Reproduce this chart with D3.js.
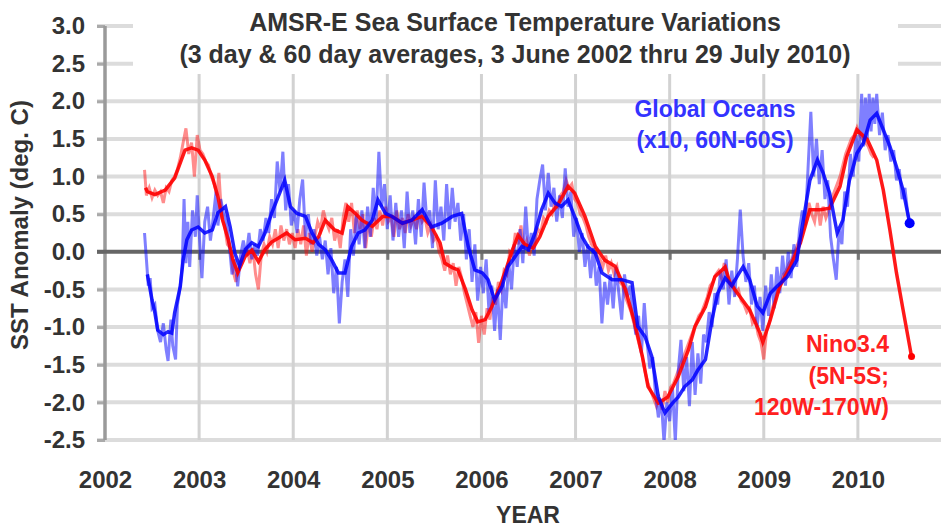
<!DOCTYPE html>
<html>
<head>
<meta charset="utf-8">
<script src="https://cdn.jsdelivr.net/npm/d3@7"></script>
<style>
body { margin: 0; background: #fff; }
svg { display: block; font-family: "Liberation Sans", Arial, sans-serif; font-weight: bold; }
</style>
</head>
<body>
<svg width="941" height="529"></svg>
<script>
// tick values
var yearTicks = [2002, 2003, 2004, 2005, 2006, 2007, 2008, 2009, 2010];
var anomalyTicks = [-2.5, -2.0, -1.5, -1.0, -0.5, 0.0, 0.5, 1.0, 1.5, 2.0, 2.5, 3.0];

// global oceans (x10), 60 day average  [year, deg C]
var global60 = [
  [2002.45,-0.30],[2002.50,-0.64],[2002.53,-0.81],[2002.56,-1.04],[2002.62,-1.10],[2002.67,-1.06],
  [2002.71,-1.08],[2002.74,-0.81],[2002.80,-0.46],[2002.83,-0.11],[2002.87,0.16],[2002.92,0.29],
  [2002.99,0.33],[2003.06,0.25],[2003.14,0.29],[2003.20,0.52],[2003.28,0.60],[2003.33,0.33],
  [2003.38,-0.02],[2003.43,-0.19],[2003.49,0.03],[2003.56,0.12],[2003.63,0.07],[2003.70,0.25],
  [2003.77,0.51],[2003.84,0.73],[2003.91,0.95],[2003.97,0.60],[2004.04,0.51],[2004.13,0.47],
  [2004.20,0.25],[2004.27,0.10],[2004.34,0.03],[2004.41,-0.11],[2004.48,-0.28],[2004.55,-0.28],
  [2004.62,0.07],[2004.69,0.25],[2004.76,0.29],[2004.84,0.42],[2004.90,0.69],[2004.98,0.51],
  [2005.05,0.47],[2005.16,0.38],[2005.26,0.42],[2005.37,0.56],[2005.47,0.33],[2005.58,0.38],
  [2005.69,0.47],[2005.79,0.51],[2005.86,0.07],[2005.93,-0.24],[2006.01,-0.28],[2006.07,-0.37],
  [2006.14,-0.64],[2006.22,-0.46],[2006.28,-0.20],[2006.36,-0.06],[2006.43,0.07],[2006.50,0.03],
  [2006.57,0.25],[2006.64,0.56],[2006.71,0.78],[2006.78,0.65],[2006.85,0.60],[2006.92,0.69],
  [2006.99,0.47],[2007.07,0.20],[2007.13,0.07],[2007.21,-0.02],[2007.28,-0.28],[2007.39,-0.37],
  [2007.49,-0.37],[2007.60,-0.41],[2007.66,-0.99],[2007.74,-1.13],[2007.81,-1.39],[2007.88,-1.93],
  [2007.95,-2.14],[2008.03,-2.01],[2008.09,-1.93],[2008.16,-1.79],[2008.24,-1.70],[2008.30,-1.57],
  [2008.38,-1.43],[2008.45,-0.90],[2008.51,-0.55],[2008.59,-0.35],[2008.66,-0.45],[2008.73,-0.30],
  [2008.78,-0.20],[2008.85,-0.37],[2008.93,-0.72],[2008.99,-0.81],[2009.07,-0.55],[2009.14,-0.46],
  [2009.25,-0.33],[2009.35,-0.11],[2009.42,0.42],[2009.49,0.95],[2009.57,1.22],[2009.63,1.05],
  [2009.70,0.78],[2009.78,0.25],[2009.84,0.42],[2009.91,0.95],[2009.99,1.31],[2010.06,1.45],
  [2010.13,1.75],[2010.20,1.84],[2010.27,1.62],[2010.34,1.40],[2010.41,1.13],[2010.48,0.82],
  [2010.55,0.38]
];

// global oceans (x10), 3 day average
var global3 = [
  [2002.42,0.25],[2002.44,-0.10],[2002.46,-0.45],[2002.48,-0.35],[2002.50,-0.75],[2002.53,-0.70],
  [2002.56,-1.05],[2002.59,-1.20],[2002.62,-0.95],[2002.65,-1.30],[2002.67,-1.45],[2002.70,-0.90],
  [2002.72,-1.25],[2002.75,-1.43],[2002.77,-0.70],[2002.80,-0.45],[2002.82,-0.20],[2002.84,0.70],
  [2002.86,-0.15],[2002.88,0.40],[2002.90,-0.20],[2002.93,0.55],[2002.96,0.20],[2002.98,0.75],
  [2003.01,0.05],[2003.03,-0.35],[2003.06,0.40],[2003.09,0.60],[2003.12,0.15],[2003.15,0.45],
  [2003.18,0.80],[2003.20,0.35],[2003.23,0.70],[2003.26,0.50],[2003.29,0.40],[2003.32,0.10],
  [2003.35,-0.30],[2003.38,-0.10],[2003.41,-0.46],[2003.44,-0.05],[2003.47,0.15],[2003.50,-0.05],
  [2003.53,0.25],[2003.56,-0.10],[2003.59,0.10],[2003.62,-0.05],[2003.65,0.30],[2003.68,0.15],
  [2003.71,0.45],[2003.74,0.25],[2003.77,0.70],[2003.80,0.45],[2003.83,1.20],[2003.86,0.80],
  [2003.89,1.33],[2003.92,0.55],[2003.95,0.90],[2003.98,0.35],[2004.01,0.55],[2004.04,0.25],
  [2004.07,0.70],[2004.10,0.96],[2004.13,0.20],[2004.16,0.50],[2004.19,0.10],[2004.22,0.30],
  [2004.25,-0.05],[2004.28,0.20],[2004.31,-0.10],[2004.34,0.15],[2004.37,-0.30],[2004.40,0.05],
  [2004.43,-0.55],[2004.46,-0.20],[2004.49,-0.95],[2004.52,-0.40],[2004.55,-0.10],[2004.58,-0.60],
  [2004.61,0.30],[2004.64,-0.05],[2004.67,0.50],[2004.70,0.10],[2004.73,0.55],[2004.76,0.05],
  [2004.79,0.60],[2004.82,0.20],[2004.85,0.85],[2004.88,0.40],[2004.91,1.33],[2004.94,0.60],
  [2004.97,0.90],[2005.00,0.30],[2005.03,0.75],[2005.06,0.15],[2005.09,0.65],[2005.12,0.20],
  [2005.15,0.55],[2005.18,0.05],[2005.21,0.80],[2005.24,0.25],[2005.27,0.55],[2005.30,0.10],
  [2005.33,0.70],[2005.36,0.20],[2005.39,0.92],[2005.42,0.40],[2005.45,0.55],[2005.48,0.05],
  [2005.51,0.95],[2005.54,0.30],[2005.57,0.60],[2005.60,0.15],[2005.63,0.90],[2005.66,0.30],
  [2005.69,0.85],[2005.72,0.40],[2005.75,0.65],[2005.78,0.15],[2005.81,0.50],[2005.84,-0.10],
  [2005.87,0.30],[2005.90,-0.40],[2005.93,0.10],[2005.96,-0.65],[2005.99,-0.20],[2006.02,-0.55],
  [2006.05,-0.10],[2006.08,-0.80],[2006.11,-0.45],[2006.14,-1.05],[2006.17,-0.50],[2006.20,-1.17],
  [2006.23,-0.40],[2006.26,-0.75],[2006.29,-0.15],[2006.32,-0.50],[2006.35,0.10],[2006.38,-0.20],
  [2006.41,0.30],[2006.44,-0.15],[2006.47,0.60],[2006.50,0.00],[2006.53,0.25],[2006.56,-0.05],
  [2006.59,0.70],[2006.62,0.95],[2006.65,1.16],[2006.68,0.55],[2006.71,1.05],[2006.74,0.60],
  [2006.77,0.85],[2006.80,0.40],[2006.83,0.75],[2006.86,0.45],[2006.89,1.11],[2006.92,0.60],
  [2006.95,0.80],[2006.98,0.20],[2007.01,0.45],[2007.04,0.00],[2007.07,0.25],[2007.10,-0.20],
  [2007.13,0.10],[2007.16,-0.35],[2007.19,0.05],[2007.22,-0.45],[2007.25,-0.20],[2007.28,-0.95],
  [2007.31,-0.40],[2007.34,-0.70],[2007.37,-0.30],[2007.40,-0.75],[2007.43,-0.20],[2007.46,-0.55],
  [2007.49,-0.90],[2007.52,-0.30],[2007.55,-0.60],[2007.58,-0.45],[2007.61,-0.80],[2007.64,-1.10],
  [2007.67,-0.85],[2007.70,-1.35],[2007.73,-0.68],[2007.76,-1.20],[2007.79,-1.55],[2007.82,-1.40],
  [2007.85,-1.90],[2007.88,-2.20],[2007.91,-1.95],[2007.94,-2.53],[2007.97,-2.00],[2008.00,-2.25],
  [2008.03,-1.80],[2008.06,-2.52],[2008.09,-1.60],[2008.12,-1.17],[2008.15,-1.85],[2008.18,-1.40],
  [2008.21,-2.05],[2008.24,-1.20],[2008.27,-1.90],[2008.30,-1.35],[2008.33,-1.75],[2008.36,-1.10],
  [2008.39,-1.20],[2008.42,-0.80],[2008.45,-1.00],[2008.48,-0.55],[2008.51,-0.70],[2008.54,-0.25],
  [2008.57,-0.50],[2008.60,-0.10],[2008.63,-0.70],[2008.66,-0.25],[2008.69,-0.60],[2008.72,-0.10],
  [2008.75,0.56],[2008.78,-0.05],[2008.81,-0.40],[2008.84,-0.15],[2008.87,-0.70],[2008.90,-0.45],
  [2008.93,-1.00],[2008.96,-0.60],[2008.99,-1.05],[2009.02,-0.45],[2009.05,-0.85],[2009.08,-0.30],
  [2009.11,-0.75],[2009.14,-0.20],[2009.17,-0.55],[2009.20,-0.05],[2009.23,-0.45],[2009.26,0.00],
  [2009.29,-0.35],[2009.32,0.10],[2009.35,-0.20],[2009.38,0.30],[2009.41,0.55],[2009.44,0.35],
  [2009.47,1.10],[2009.50,1.86],[2009.53,1.00],[2009.56,1.50],[2009.59,0.90],[2009.62,1.35],
  [2009.65,0.70],[2009.68,0.95],[2009.71,0.20],[2009.74,-0.10],[2009.77,-0.37],[2009.80,0.30],
  [2009.83,0.10],[2009.86,0.80],[2009.89,0.60],[2009.92,1.30],[2009.95,1.00],[2009.98,1.55],
  [2010.01,1.20],[2010.04,2.10],[2010.06,1.40],[2010.08,2.05],[2010.10,1.50],[2010.12,2.10],
  [2010.14,1.60],[2010.16,2.05],[2010.18,1.70],[2010.20,2.10],[2010.23,1.55],[2010.26,1.85],
  [2010.29,1.35],[2010.32,1.55],[2010.35,1.20],[2010.38,1.35],[2010.41,0.95],[2010.44,1.10],
  [2010.47,0.70],[2010.50,0.85],[2010.53,0.50],[2010.55,0.40]
];

// Nino3.4, 60 day average
var nino60 = [
  [2002.43,0.85],[2002.45,0.80],[2002.53,0.76],[2002.64,0.82],[2002.74,0.98],[2002.85,1.35],
  [2002.92,1.38],[2002.99,1.35],[2003.06,1.22],[2003.14,1.00],[2003.20,0.73],[2003.25,0.42],
  [2003.31,0.16],[2003.36,-0.11],[2003.41,-0.28],[2003.49,-0.06],[2003.56,0.02],[2003.63,-0.13],
  [2003.70,0.03],[2003.77,0.13],[2003.84,0.18],[2003.93,0.25],[2004.02,0.16],[2004.13,0.18],
  [2004.21,0.12],[2004.27,0.20],[2004.34,0.42],[2004.44,0.29],[2004.52,0.25],[2004.58,0.60],
  [2004.66,0.51],[2004.73,0.42],[2004.84,0.34],[2004.95,0.47],[2005.05,0.47],[2005.16,0.38],
  [2005.26,0.42],[2005.37,0.47],[2005.47,0.33],[2005.56,0.12],[2005.61,-0.15],[2005.69,-0.21],
  [2005.75,-0.24],[2005.83,-0.50],[2005.90,-0.77],[2005.96,-0.93],[2006.04,-0.90],[2006.11,-0.73],
  [2006.20,-0.45],[2006.27,-0.20],[2006.33,0.03],[2006.39,0.22],[2006.46,0.10],[2006.55,0.05],
  [2006.62,0.20],[2006.71,0.47],[2006.81,0.62],[2006.92,0.87],[2006.99,0.78],[2007.10,0.47],
  [2007.21,0.07],[2007.31,-0.11],[2007.42,-0.19],[2007.53,-0.50],[2007.63,-0.95],[2007.71,-1.39],
  [2007.77,-1.79],[2007.88,-2.01],[2007.98,-1.93],[2008.09,-1.66],[2008.20,-1.30],[2008.27,-0.99],
  [2008.38,-0.73],[2008.48,-0.33],[2008.59,-0.20],[2008.64,-0.41],[2008.75,-0.60],[2008.85,-0.77],
  [2008.96,-1.08],[2008.99,-1.20],[2009.07,-0.90],[2009.17,-0.46],[2009.28,-0.20],[2009.39,0.12],
  [2009.49,0.56],[2009.60,0.56],[2009.70,0.58],[2009.81,0.87],[2009.88,1.26],[2009.99,1.62],
  [2010.10,1.49],[2010.20,1.22],[2010.27,0.82],[2010.34,0.29],[2010.41,-0.28],[2010.48,-0.77],
  [2010.57,-1.39]
];

// Nino3.4, 3 day average
var nino3 = [
  [2002.42,1.09],[2002.44,0.75],[2002.47,0.85],[2002.50,0.72],[2002.53,0.82],[2002.56,0.75],
  [2002.59,0.80],[2002.62,0.65],[2002.65,0.85],[2002.68,0.80],[2002.71,0.95],[2002.74,1.00],
  [2002.77,1.10],[2002.80,1.25],[2002.83,1.45],[2002.86,1.64],[2002.89,1.30],[2002.92,1.45],
  [2002.95,1.00],[2002.98,1.55],[2003.01,1.35],[2003.04,1.30],[2003.07,1.20],[2003.10,1.15],
  [2003.13,1.00],[2003.16,0.90],[2003.19,0.75],[2003.21,1.05],[2003.24,0.45],[2003.27,0.35],
  [2003.30,0.10],[2003.33,0.05],[2003.36,-0.25],[2003.39,-0.40],[2003.42,-0.20],[2003.45,-0.10],
  [2003.48,0.00],[2003.51,0.05],[2003.54,-0.15],[2003.57,0.05],[2003.60,-0.30],[2003.63,-0.50],
  [2003.66,-0.05],[2003.69,0.10],[2003.72,0.00],[2003.75,0.20],[2003.78,0.10],[2003.81,0.30],
  [2003.84,0.05],[2003.87,0.35],[2003.90,0.15],[2003.93,0.30],[2003.96,0.10],[2003.99,0.25],
  [2004.02,0.05],[2004.05,0.30],[2004.08,0.10],[2004.11,0.35],[2004.14,-0.05],[2004.17,0.25],
  [2004.20,0.00],[2004.23,0.20],[2004.26,0.40],[2004.29,0.30],[2004.32,0.55],[2004.35,0.40],
  [2004.38,0.30],[2004.41,0.45],[2004.44,0.15],[2004.47,0.30],[2004.50,0.05],[2004.53,0.45],
  [2004.56,0.65],[2004.59,0.40],[2004.62,0.65],[2004.65,0.25],[2004.68,0.55],[2004.71,0.30],
  [2004.74,0.50],[2004.77,0.05],[2004.80,0.40],[2004.83,0.20],[2004.86,0.45],[2004.89,0.30],
  [2004.92,0.55],[2004.95,0.35],[2004.98,0.60],[2005.01,0.40],[2005.04,0.45],[2005.07,0.20],
  [2005.10,0.55],[2005.13,0.30],[2005.16,0.45],[2005.19,0.25],[2005.22,0.50],[2005.25,0.35],
  [2005.28,0.45],[2005.31,0.30],[2005.34,0.55],[2005.37,0.40],[2005.40,0.45],[2005.43,0.25],
  [2005.46,0.35],[2005.49,0.15],[2005.52,0.20],[2005.55,0.00],[2005.58,-0.10],[2005.61,-0.25],
  [2005.64,-0.05],[2005.67,-0.30],[2005.70,-0.15],[2005.73,-0.45],[2005.76,-0.20],[2005.79,-0.35],
  [2005.82,-0.55],[2005.85,-0.70],[2005.88,-0.85],[2005.91,-1.00],[2005.94,-0.80],[2005.97,-1.21],
  [2006.00,-0.85],[2006.03,-1.10],[2006.06,-0.75],[2006.09,-0.90],[2006.12,-0.60],[2006.15,-0.70],
  [2006.18,-0.40],[2006.21,-0.50],[2006.24,-0.25],[2006.27,-0.30],[2006.30,0.00],[2006.33,-0.05],
  [2006.36,0.25],[2006.39,0.10],[2006.42,0.35],[2006.45,0.05],[2006.48,0.15],[2006.51,-0.05],
  [2006.54,0.10],[2006.57,0.15],[2006.60,0.30],[2006.63,0.25],[2006.66,0.45],[2006.69,0.40],
  [2006.72,0.55],[2006.75,0.50],[2006.78,0.65],[2006.81,0.60],[2006.84,0.75],[2006.87,0.80],
  [2006.90,0.95],[2006.93,0.85],[2006.96,0.90],[2006.99,0.70],[2007.02,0.65],[2007.05,0.50],
  [2007.08,0.45],[2007.11,0.35],[2007.14,0.20],[2007.17,0.10],[2007.20,0.05],[2007.23,-0.05],
  [2007.26,-0.10],[2007.29,-0.20],[2007.32,-0.05],[2007.35,-0.25],[2007.38,-0.15],[2007.41,-0.30],
  [2007.44,-0.20],[2007.47,-0.40],[2007.50,-0.45],[2007.53,-0.60],[2007.56,-0.70],[2007.59,-0.80],
  [2007.62,-0.95],[2007.65,-1.10],[2007.68,-1.25],[2007.71,-1.40],[2007.74,-1.60],[2007.77,-1.75],
  [2007.80,-1.85],[2007.83,-1.95],[2007.86,-2.05],[2007.89,-1.95],[2007.92,-2.10],[2007.95,-1.85],
  [2007.98,-2.00],[2008.01,-1.80],[2008.04,-1.75],[2008.07,-1.65],[2008.10,-1.55],[2008.13,-1.45],
  [2008.16,-1.35],[2008.19,-1.25],[2008.22,-1.15],[2008.25,-1.05],[2008.28,-0.95],[2008.31,-0.85],
  [2008.34,-0.80],[2008.37,-0.70],[2008.40,-0.60],[2008.43,-0.45],[2008.46,-0.40],[2008.49,-0.30],
  [2008.52,-0.25],[2008.55,-0.35],[2008.58,-0.15],[2008.61,-0.30],[2008.64,-0.45],[2008.67,-0.40],
  [2008.70,-0.55],[2008.73,-0.50],[2008.76,-0.65],[2008.79,-0.70],[2008.82,-0.80],[2008.85,-0.75],
  [2008.88,-0.95],[2008.91,-0.90],[2008.94,-1.10],[2008.97,-1.20],[2009.00,-1.43],[2009.03,-1.05],
  [2009.06,-0.95],[2009.09,-0.75],[2009.12,-0.65],[2009.15,-0.50],[2009.18,-0.45],[2009.21,-0.30],
  [2009.24,-0.25],[2009.27,-0.15],[2009.30,-0.10],[2009.33,0.00],[2009.36,0.10],[2009.39,0.20],
  [2009.42,0.30],[2009.45,0.45],[2009.48,0.65],[2009.51,0.50],[2009.54,0.40],[2009.57,0.65],
  [2009.60,0.35],[2009.63,0.60],[2009.66,0.45],[2009.69,0.55],[2009.72,0.70],[2009.75,0.80],
  [2009.78,0.90],[2009.81,1.00],[2009.84,1.15],[2009.87,1.30],[2009.90,1.40],[2009.93,1.50],
  [2009.96,1.55],[2009.99,1.65],[2010.02,1.55],[2010.05,1.50],[2010.08,1.45],[2010.11,1.40],
  [2010.14,1.30],[2010.17,1.25]
];

var titleLines = ["AMSR-E Sea Surface Temperature Variations",
                  "(3 day & 60 day averages, 3 June 2002 thru 29 July 2010)"];
var globalLabel = ["Global Oceans", "(x10, 60N-60S)"];
var ninoLabel = ["Nino3.4", "(5N-5S;", "120W-170W)"];

function drawChart() {
    var svg = d3.select("svg"),
        width = +svg.attr("width"),
        height = +svg.attr("height");

    var left = 105, top = 26, bottom = 440;

    var x = d3.scaleLinear().domain([2002, 2011]).range([left, 952]);
    var y = d3.scaleLinear().domain([-2.5, 3.0]).range([bottom, top]);

    svg.append("defs").append("clipPath").attr("id", "plotclip")
        .append("rect").attr("x", left).attr("y", top).attr("width", width - left).attr("height", bottom - top);

    // horizontal grid
    svg.append("g").selectAll("line")
        .data(anomalyTicks.filter(function(d) { return d != 0; }))
        .enter().append("line")
        .attr("x1", left - 8).attr("x2", width)
        .attr("y1", function(d) { return y(d); })
        .attr("y2", function(d) { return y(d); })
        .attr("stroke", "#dcdcdc")
        .attr("stroke-width", 4);

    // vertical grid
    svg.append("g").selectAll("line")
        .data(yearTicks.slice(1))
        .enter().append("line")
        .attr("x1", function(d) { return x(d); })
        .attr("x2", function(d) { return x(d); })
        .attr("y1", top).attr("y2", bottom)
        .attr("stroke", "#d2d2d2")
        .attr("stroke-width", 3);

    // white box behind the title
    svg.append("rect")
        .attr("x", 133).attr("y", 0).attr("width", 765).attr("height", 74)
        .attr("fill", "#fff");

    // left axis
    var yAxis = d3.axisLeft(y)
        .tickValues(anomalyTicks)
        .tickSize(8)
        .tickPadding(12)
        .tickFormat(function(d) { return d.toFixed(1); });
    var gy = svg.append("g").attr("transform", "translate(" + left + ",0)").call(yAxis);
    gy.select(".domain").remove();
    gy.selectAll("line").attr("stroke", "#aaa").attr("stroke-width", 3);
    gy.selectAll("text").attr("fill", "#333").style("font-size", "24px").style("font-weight", "bold")
        .style("font-family", "'Liberation Sans', Arial, sans-serif");

    svg.append("line")
        .attr("x1", left).attr("x2", left)
        .attr("y1", top).attr("y2", bottom)
        .attr("stroke", "#9a9a9a").attr("stroke-width", 3.5);

    // bottom labels
    var xAxis = d3.axisBottom(x)
        .tickValues(yearTicks)
        .tickSize(0)
        .tickPadding(31)
        .tickFormat(d3.format("d"));
    var gx = svg.append("g").attr("transform", "translate(0," + bottom + ")").call(xAxis);
    gx.select(".domain").remove();
    gx.selectAll("text").attr("fill", "#333").style("font-size", "24px").style("font-weight", "bold")
        .style("font-family", "'Liberation Sans', Arial, sans-serif");

    // zero line with year ticks
    var zAxis = d3.axisBottom(x).tickValues(yearTicks.slice(1)).tickSize(8).tickFormat("");
    var gz = svg.append("g").attr("transform", "translate(0," + y(0) + ")").call(zAxis);
    gz.select(".domain").remove();
    gz.selectAll("line").attr("stroke", "#777").attr("stroke-width", 3);
    svg.append("line")
        .attr("x1", left - 8).attr("x2", width)
        .attr("y1", y(0)).attr("y2", y(0))
        .attr("stroke", "#666").attr("stroke-width", 4);

    var line = d3.line()
        .x(function(d) { return x(d[0]); })
        .y(function(d) { return y(d[1]); });

    var plot = svg.append("g").attr("clip-path", "url(#plotclip)");

    plot.append("path").datum(nino3)
        .attr("d", line).attr("fill", "none")
        .attr("stroke", "#ff0000").attr("stroke-opacity", 0.45).attr("stroke-width", 3);
    plot.append("path").datum(global3)
        .attr("d", line).attr("fill", "none")
        .attr("stroke", "#0000ff").attr("stroke-opacity", 0.5).attr("stroke-width", 3);
    plot.append("path").datum(nino60)
        .attr("d", line).attr("fill", "none")
        .attr("stroke", "#ff0000").attr("stroke-opacity", 0.9).attr("stroke-width", 3.5);
    plot.append("path").datum(global60)
        .attr("d", line).attr("fill", "none")
        .attr("stroke", "#0000ff").attr("stroke-opacity", 0.85).attr("stroke-width", 3.5);

    var lastG = global60[global60.length - 1], lastN = nino60[nino60.length - 1];
    plot.append("circle").attr("cx", x(lastG[0])).attr("cy", y(lastG[1])).attr("r", 5).attr("fill", "#0000ff");
    plot.append("circle").attr("cx", x(lastN[0])).attr("cy", y(lastN[1])).attr("r", 3.5).attr("fill", "#ff0000");

    // titles
    svg.append("g").selectAll("text")
        .data(titleLines)
        .enter().append("text")
        .attr("x", 515)
        .attr("y", function(d, i) { return 31 + i * 32; })
        .attr("text-anchor", "middle")
        .attr("fill", "#333")
        .style("font-size", "25px")
        .text(function(d) { return d; });

    svg.append("text")
        .attr("transform", "translate(28,225) rotate(-90)")
        .attr("text-anchor", "middle")
        .attr("fill", "#333")
        .style("font-size", "24px")
        .text("SST Anomaly (deg. C)");

    svg.append("text")
        .attr("x", 528).attr("y", 523)
        .attr("text-anchor", "middle")
        .attr("fill", "#333")
        .style("font-size", "23px")
        .text("YEAR");

    svg.append("g").selectAll("text")
        .data(globalLabel)
        .enter().append("text")
        .attr("x", 715)
        .attr("y", function(d, i) { return 117 + i * 31; })
        .attr("text-anchor", "middle")
        .attr("fill", "#3333ff")
        .style("font-size", "23px")
        .text(function(d) { return d; });

    svg.append("g").selectAll("text")
        .data(ninoLabel)
        .enter().append("text")
        .attr("x", 889)
        .attr("y", function(d, i) { return 352 + i * 31.5; })
        .attr("text-anchor", "end")
        .attr("fill", "#ff2020")
        .style("font-size", "23px")
        .text(function(d) { return d; });
}

window.onload = function() {
    drawChart();
};
</script>
</body>
</html>
